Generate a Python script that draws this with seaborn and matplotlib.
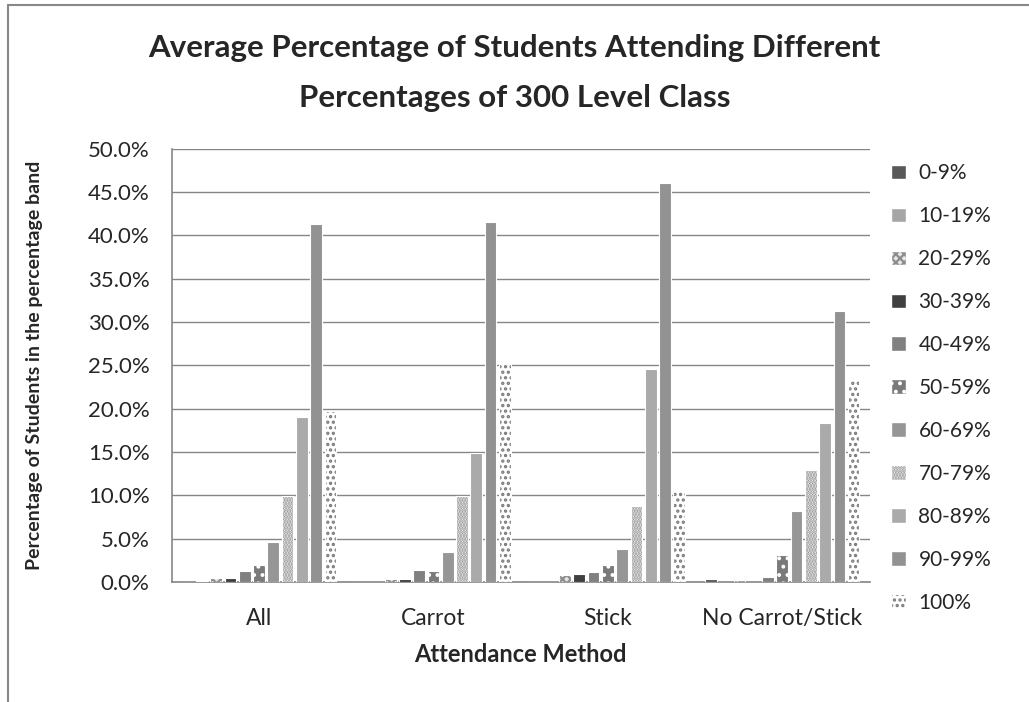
import matplotlib
matplotlib.use("Agg")
import matplotlib.pyplot as plt
import matplotlib.patches as mpatches
import matplotlib.lines as mlines
import pandas as pd
import seaborn as sns

methods = ["All", "Carrot", "Stick", "No Carrot/Stick"]
bands = ["0-9%", "10-19%", "20-29%", "30-39%", "40-49%", "50-59%",
         "60-69%", "70-79%", "80-89%", "90-99%", "100%"]

# percent of students per band, one list per attendance method
all_vals = [0.0, 0.1, 0.4, 0.5, 1.3, 1.9, 4.6, 9.9, 19.1, 41.3, 19.7]
carrot_vals = [0.0, 0.0, 0.3, 0.3, 1.4, 1.3, 3.5, 9.9, 14.9, 41.6, 25.2]
stick_vals = [0.0, 0.0, 0.8, 0.9, 1.2, 1.9, 3.8, 8.8, 24.6, 46.1, 10.5]
none_vals = [0.3, 0.0, 0.2, 0.0, 0.6, 3.1, 8.2, 12.9, 18.3, 31.3, 23.4]

band_colors = ["#595959", "#a6a6a6", "#e6e6e6", "#404040", "#808080", "#7a7a7a",
               "#969696", "#ffffff", "#aaaaaa", "#929292", "#ffffff"]
band_hatch = [None, None, "xxxx", None, None, "..", None, "......", None, None, "..."]
hatch_col = [None, None, "#8c8c8c", None, None, "#ffffff", None, "#8c8c8c", None, None, "#7a7a7a"]

rows = []
for m, vals in zip(methods, [all_vals, carrot_vals, stick_vals, none_vals]):
    for b, v in zip(bands, vals):
        rows.append({"method": m, "band": b, "pct": v})
df = pd.DataFrame(rows)

sns.set_style("white")
plt.rcParams["font.family"] = ["Lato", "DejaVu Sans"]
plt.rcParams["hatch.linewidth"] = 1.6

fig = plt.figure(figsize=(10.29, 7.02), dpi=100)
ax = fig.add_axes([0.167, 0.171, 0.678, 0.617])

sns.barplot(data=df, x="method", y="pct", hue="band", order=methods,
            hue_order=bands, palette=band_colors, width=0.9, gap=0.18,
            edgecolor="white", linewidth=0.8, legend=False, ax=ax)

for cont, h, hc in zip(ax.containers, band_hatch, hatch_col):
    for bar in cont:
        if h:
            bar.set_hatch(h)
            bar._hatch_color = matplotlib.colors.to_rgba(hc)
        bar.set_zorder(3)

ax.set_ylim(0, 50)
ax.set_yticks(range(0, 51, 5))
ax.set_yticklabels([f"{t:.1f}%" for t in range(0, 51, 5)], fontsize=16)
ax.tick_params(axis="y", length=6, color="#868686", width=1, pad=10)
ax.tick_params(axis="x", length=0, labelsize=16.5, pad=19)
ax.yaxis.grid(True, color="#868686", linewidth=1)
ax.set_axisbelow(True)
for s in ["top", "right"]:
    ax.spines[s].set_visible(False)
for s in ["left", "bottom"]:
    ax.spines[s].set_color("#868686")
    ax.spines[s].set_linewidth(1.2)

ax.set_xlabel("Attendance Method", fontsize=17, fontweight="bold", labelpad=10)
ax.set_ylabel("Percentage of Students in the percentage band", fontsize=14,
              fontweight="bold", labelpad=32)
fig.suptitle("Average Percentage of Students Attending Different\nPercentages of 300 Level Class",
             fontsize=22.5, fontweight="bold", y=0.952, linespacing=1.95)

handles = []
for c, h, hc in zip(band_colors, band_hatch, hatch_col):
    p = mpatches.Patch(facecolor=c, edgecolor="white", hatch=h)
    if h:
        p._hatch_color = matplotlib.colors.to_rgba(hc)
    handles.append(p)
fig.legend(handles, bands, loc="upper left", bbox_to_anchor=(0.848, 0.794),
           frameon=False, fontsize=15, labelspacing=1.1,
           handlelength=0.7, handleheight=0.7, handletextpad=0.6)

# outer chart frame (top and left edges visible)
fig.add_artist(mlines.Line2D([0.008, 0.008], [0.0, 0.993], color="#888888", linewidth=1.5))
fig.add_artist(mlines.Line2D([0.008, 1.0], [0.993, 0.993], color="#888888", linewidth=1.5))

fig.savefig("out.png", dpi=100, facecolor="white")
